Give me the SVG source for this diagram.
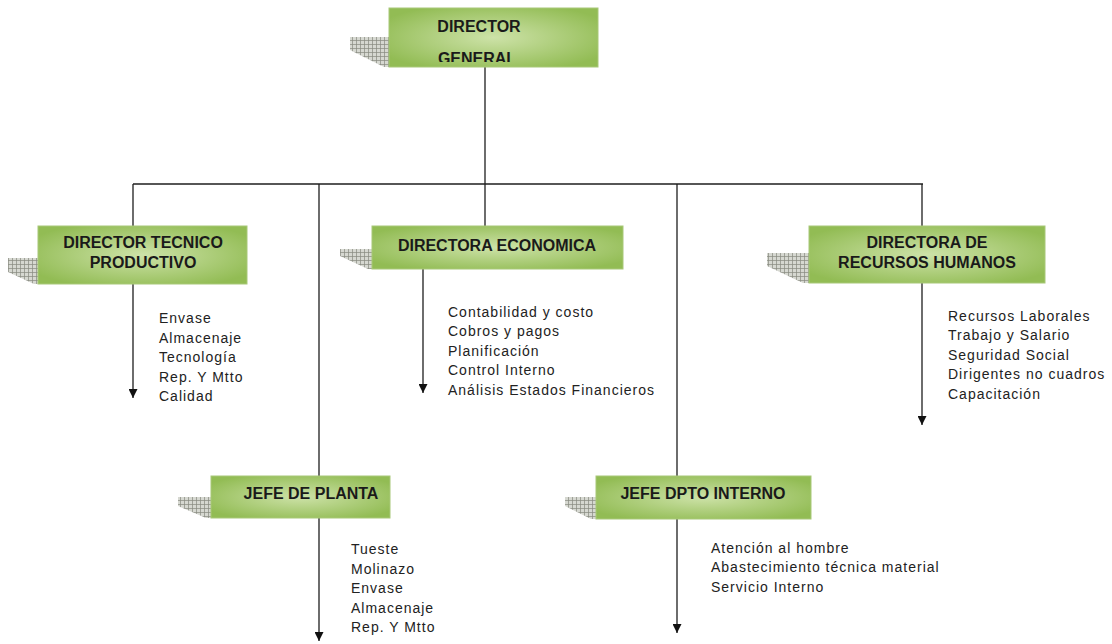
<svg xmlns="http://www.w3.org/2000/svg" width="1112" height="644" viewBox="0 0 1112 644">
<defs>
<style>
.box{fill:url(#g);stroke:#a8c878;stroke-width:1}
.sh{fill:url(#grid)}
.t{font-family:"Liberation Sans",Arial,sans-serif;font-weight:bold;font-size:16px;fill:#1a1a1a;text-anchor:middle}
.l{font-family:"Liberation Sans",Arial,sans-serif;font-size:14px;letter-spacing:1px;fill:#222}
.c{stroke:#1e1e1e;stroke-width:1.3;fill:none}
.a{stroke:#1e1e1e;stroke-width:1.3;fill:none;marker-end:url(#arr)}
</style>
<radialGradient id="g" cx="50%" cy="50%" r="60%">
<stop offset="0" stop-color="#cde2a8"/>
<stop offset="1" stop-color="#92bc54"/>
</radialGradient>
<pattern id="grid" width="4" height="4" patternUnits="userSpaceOnUse">
<rect width="4" height="4" fill="#d6d8d1"/>
<path d="M0 0.5H4M0.5 0V4" stroke="#868980" stroke-width="0.7"/>
</pattern>
<marker id="arr" viewBox="0 0 10 10" refX="10" refY="5" markerWidth="9" markerHeight="9" markerUnits="userSpaceOnUse" orient="auto">
<path d="M0 0L10 5L0 10Z" fill="#111"/>
</marker>
<clipPath id="dgclip"><rect x="389" y="8" width="209" height="54"/></clipPath>
</defs>
<rect width="1112" height="644" fill="#fff"/>
<g id="connectors">
<line class="c" x1="485" y1="66" x2="485" y2="184"/>
<line class="c" x1="133" y1="184" x2="923" y2="184"/>
<line class="c" x1="133" y1="184" x2="133" y2="226"/>
<line class="a" x1="133" y1="284" x2="133" y2="398"/>
<line class="c" x1="485" y1="184" x2="485" y2="226"/>
<line class="a" x1="423" y1="269" x2="423" y2="393"/>
<line class="c" x1="922" y1="184" x2="922" y2="226"/>
<line class="a" x1="922" y1="283" x2="922" y2="425"/>
<line class="c" x1="319" y1="184" x2="319" y2="476"/>
<line class="a" x1="319" y1="518" x2="319" y2="641"/>
<line class="a" x1="677" y1="184" x2="677" y2="633"/>
</g>
<g id="director-general">
<polygon class="sh" points="350,37 389,37 389,67 384,67 350,50"/>
<rect class="box" x="389" y="8" width="209" height="59"/>
<g clip-path="url(#dgclip)">
<text class="t" x="479" y="32">DIRECTOR</text>
<text class="t" x="477" y="64">GENERAL</text>
</g>
</g>
<g id="director-tecnico">
<polygon class="sh" points="8,258 38,258 38,284 34,284 8,272"/>
<rect class="box" x="38" y="226" width="209" height="58"/>
<text class="t" x="143" y="248">DIRECTOR TECNICO</text>
<text class="t" x="143" y="268">PRODUCTIVO</text>
<text class="l" x="159" y="323">Envase</text>
<text class="l" x="159" y="343">Almacenaje</text>
<text class="l" x="159" y="362">Tecnología</text>
<text class="l" x="159" y="382">Rep. Y Mtto</text>
<text class="l" x="159" y="401">Calidad</text>
</g>
<g id="directora-economica">
<polygon class="sh" points="340,249 372,249 372,269 368,269 340,256"/>
<rect class="box" x="372" y="226" width="251" height="43"/>
<text class="t" x="497" y="251">DIRECTORA ECONOMICA</text>
<text class="l" x="448" y="317">Contabilidad y costo</text>
<text class="l" x="448" y="336">Cobros y pagos</text>
<text class="l" x="448" y="356">Planificación</text>
<text class="l" x="448" y="375">Control Interno</text>
<text class="l" x="448" y="395">Análisis Estados Financieros</text>
</g>
<g id="directora-rrhh">
<polygon class="sh" points="767,253 809,253 809,283 803,283 767,266"/>
<rect class="box" x="809" y="226" width="236" height="57"/>
<text class="t" x="927" y="248">DIRECTORA DE</text>
<text class="t" x="927" y="268">RECURSOS HUMANOS</text>
<text class="l" x="948" y="321">Recursos Laborales</text>
<text class="l" x="948" y="340">Trabajo y Salario</text>
<text class="l" x="948" y="360">Seguridad Social</text>
<text class="l" x="948" y="379">Dirigentes no cuadros</text>
<text class="l" x="948" y="399">Capacitación</text>
</g>
<g id="jefe-planta">
<polygon class="sh" points="178,497 211,497 211,518 206,518 178,506"/>
<rect class="box" x="211" y="476" width="179" height="42"/>
<text class="t" x="311" y="499">JEFE DE PLANTA</text>
<text class="l" x="351" y="554">Tueste</text>
<text class="l" x="351" y="574">Molinazo</text>
<text class="l" x="351" y="593">Envase</text>
<text class="l" x="351" y="613">Almacenaje</text>
<text class="l" x="351" y="632">Rep. Y Mtto</text>
</g>
<g id="jefe-dpto-interno">
<polygon class="sh" points="565,497 596,497 596,519 591,519 565,506"/>
<rect class="box" x="596" y="476" width="215" height="43"/>
<text class="t" x="703" y="499">JEFE DPTO INTERNO</text>
<text class="l" x="711" y="553">Atención al hombre</text>
<text class="l" x="711" y="572">Abastecimiento técnica material</text>
<text class="l" x="711" y="592">Servicio Interno</text>
</g>
</svg>
